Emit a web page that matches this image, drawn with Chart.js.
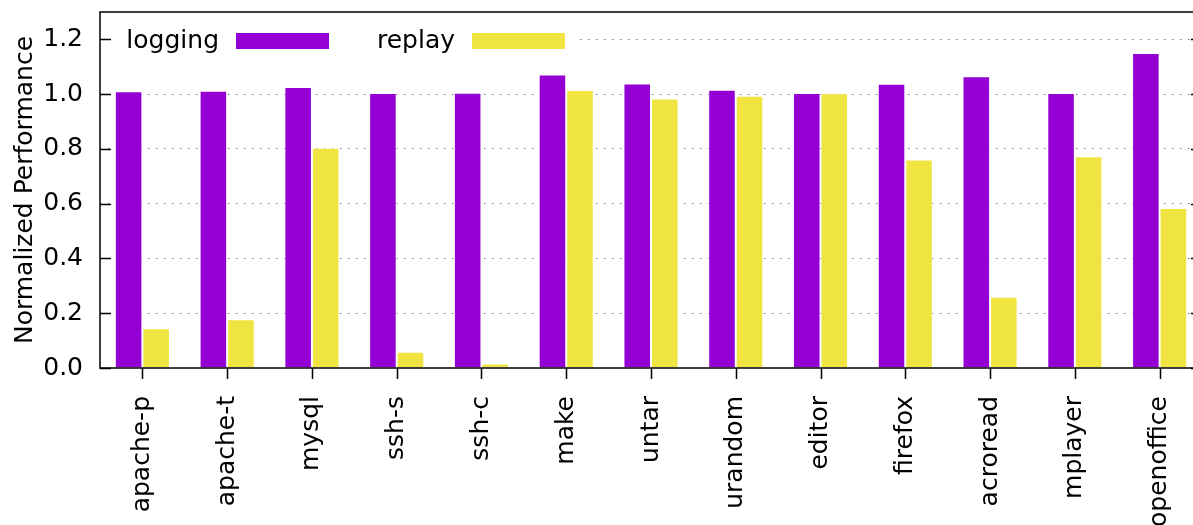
<!DOCTYPE html>
<html>
<head>
<meta charset="utf-8">
<script src="https://cdn.jsdelivr.net/npm/chart.js@4"></script>
<style>
  html, body { margin: 0; padding: 0; background: #fff; overflow: hidden; }
  #wrap { width: 1203px; height: 525px; }
</style>
</head>
<body>
<div id="wrap"><canvas id="c" width="1203" height="525"></canvas></div>
<script>
// Benchmarks on the x axis
const categories = ['apache-p', 'apache-t', 'mysql', 'ssh-s', 'ssh-c', 'make', 'untar',
  'urandom', 'editor', 'firefox', 'acroread', 'mplayer', 'openoffice'];

// Normalized performance per benchmark
const loggingValues = [1.011, 1.012, 1.026, 1.004, 1.005, 1.072, 1.039,
  1.016, 1.004, 1.038, 1.065, 1.004, 1.150];
const replayValues = [0.145, 0.178, 0.804, 0.059, 0.016, 1.015, 0.984,
  0.994, 1.003, 0.761, 0.260, 0.773, 0.584];

const seriesNames = ['logging', 'replay'];
const yTickValues = [0.0, 0.2, 0.4, 0.6, 0.8, 1.0, 1.2];

const FONT = { family: "'DejaVu Sans', sans-serif", size: 25 };
const PURPLE = '#9400d3';
const YELLOW = '#f0e442';

// Key drawn inside the plot area, on an opaque background over the grid
const keyPlugin = {
  id: 'insideKey',
  beforeDatasetsDraw(chart) {
    const { ctx, chartArea } = chart;
    const L = chartArea.left;
    ctx.save();
    ctx.fillStyle = '#fff';
    ctx.fillRect(L + 2, 26, 476, 30);
    ctx.font = `${FONT.size}px ${FONT.family}`;
    ctx.textAlign = 'right';
    ctx.textBaseline = 'middle';
    const swatchLefts = [L + 136, L + 372];
    chart.data.datasets.forEach((ds, i) => {
      const sx = swatchLefts[i];
      ctx.fillStyle = '#000';
      ctx.fillText(ds.label, sx - 17, 41);
      ctx.fillStyle = ds.backgroundColor;
      ctx.fillRect(sx, 33, 93, 16);
    });
    ctx.restore();
  }
};

// Frame around the plot plus tick marks (inward on y, outward on x)
const framePlugin = {
  id: 'frame',
  afterDatasetsDraw(chart) {
    const { ctx, chartArea, scales } = chart;
    const { left, right, top, bottom } = chartArea;
    ctx.save();
    ctx.strokeStyle = '#000';
    ctx.lineWidth = 1.5;
    ctx.strokeRect(left, top, right - left, bottom - top);
    ctx.beginPath();
    scales.y.ticks.forEach(t => {
      const y = Math.round(scales.y.getPixelForValue(t.value)) + 0.5;
      ctx.moveTo(left, y); ctx.lineTo(left + 11, y);
      ctx.moveTo(right - 11, y); ctx.lineTo(right, y);
    });
    categories.forEach((c, i) => {
      const x = Math.round(scales.x.getPixelForValue(i)) + 0.5;
      ctx.moveTo(x, bottom); ctx.lineTo(x, bottom + 11);
    });
    ctx.stroke();
    ctx.restore();
  }
};

function noScalePadding(scale) {
  scale.paddingTop = 0;
  scale.paddingBottom = 0;
  scale.paddingLeft = 0;
  scale.paddingRight = 0;
}

new Chart(document.getElementById('c'), {
  type: 'bar',
  data: {
    labels: categories,
    datasets: [
      { label: seriesNames[0], data: loggingValues, backgroundColor: PURPLE,
        borderColor: 'rgba(255,255,255,0.55)', borderWidth: 1 },
      { label: seriesNames[1], data: replayValues, backgroundColor: YELLOW,
        borderColor: 'rgba(255,255,255,0.55)', borderWidth: 1 }
    ]
  },
  options: {
    responsive: false,
    animation: false,
    devicePixelRatio: 1,
    layout: { padding: { top: 12, right: 1, left: 0, bottom: 0 } },
    datasets: { bar: { categoryPercentage: 0.65, barPercentage: 1.0 } },
    plugins: { legend: { display: false }, tooltip: { enabled: false } },
    scales: {
      x: {
        grid: { display: false, drawTicks: false },
        border: { display: false },
        ticks: {
          color: '#000', font: FONT, padding: 28,
          maxRotation: 90, minRotation: 90, autoSkip: false
        },
        afterFit(scale) { scale.height = 157; noScalePadding(scale); }
      },
      y: {
        min: 0, max: 1.3,
        afterBuildTicks(scale) { scale.ticks = yTickValues.map(v => ({ value: v })); },
        grid: {
          drawTicks: false,
          color: ctx => (ctx.tick && ctx.tick.value === 0) ? 'rgba(0,0,0,0)' : '#7a7a7a',
          lineWidth: 1
        },
        border: { display: false, dash: [1.5, 6.5] },
        ticks: {
          color: '#000', font: FONT, padding: 17,
          callback: v => Number(v).toFixed(1)
        },
        title: {
          display: true, text: 'Normalized Performance', color: '#000',
          font: FONT, padding: { top: 10, bottom: 0 }
        },
        afterFit(scale) { scale.width = 100; noScalePadding(scale); }
      }
    }
  },
  plugins: [keyPlugin, framePlugin]
});
</script>
</body>
</html>
